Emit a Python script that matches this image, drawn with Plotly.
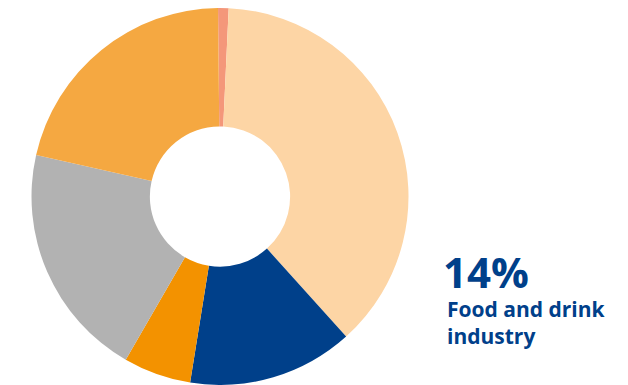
import plotly.graph_objects as go

labels = ["Other", "Segment A", "Food and drink industry", "Segment C", "Segment D", "Segment E"]
values = [0.9, 37.6, 14.2, 5.8, 20.2, 21.3]
colors = ["#F4977A", "#FDD5A5", "#00408A", "#F39200", "#B2B2B2", "#F5A841"]

W, H = 628, 385
cx, cy, r = 220, 196.5, 188.5

fig = go.Figure(go.Pie(
    labels=labels, values=values, sort=False, direction="clockwise",
    rotation=-0.6, hole=0.372,
    marker=dict(colors=colors, line=dict(width=0)),
    textinfo="none", hoverinfo="label+percent", showlegend=False,
    domain=dict(x=[(cx - r) / W, (cx + r) / W], y=[1 - (cy + r) / H, 1 - (cy - r) / H]),
))

fig.add_annotation(text="<b>14%</b>", xref="paper", yref="paper",
                   x=442 / W, y=1 - 242 / H, xanchor="left", yanchor="top",
                   showarrow=False, borderpad=0,
                   font=dict(family="Open Sans", size=42, color="#00408A"))
fig.add_annotation(text="<b>Food and drink<br>industry</b>", xref="paper", yref="paper",
                   x=446 / W, y=1 - 294 / H, xanchor="left", yanchor="top", align="left",
                   showarrow=False, borderpad=0,
                   font=dict(family="Open Sans", size=21, color="#00408A"))

fig.update_layout(width=W, height=H, margin=dict(l=0, r=0, t=0, b=0),
                  paper_bgcolor="white", plot_bgcolor="white")
fig.write_html("out.html")
